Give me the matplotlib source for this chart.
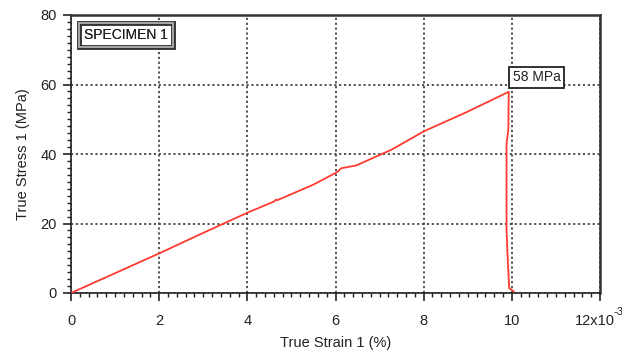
import matplotlib
matplotlib.use("Agg")
import matplotlib.pyplot as plt
from matplotlib.ticker import MultipleLocator
from matplotlib.transforms import ScaledTranslation

plt.rcParams['font.family'] = ['Liberation Sans', 'DejaVu Sans']

# True strain (x10^-3) and true stress (MPa)
strain = [0.0, 1.0, 2.0, 3.0, 4.0, 4.62, 4.65, 4.68, 5.5, 6.04, 6.13, 6.47, 7.28, 8.0, 9.0, 9.93,
          9.92, 9.88, 9.88, 9.90, 9.94, 10.04]
stress = [0.0, 5.7, 11.4, 17.3, 23.1, 26.4, 26.9, 26.7, 31.2, 34.8, 35.9, 36.7, 41.3, 46.5, 52.2, 57.9,
          47.0, 43.0, 18.3, 11.6, 1.4, 0.5]

xticks = [0, 2, 4, 6, 8, 10, 12]
xticklabels = ['0', '2', '4', '6', '8', '10', '12x10']
x_exponent = '-3'
yticks = [0, 20, 40, 60, 80]
peak_label = '58 MPa'
specimen_label = 'SPECIMEN 1'

fig = plt.figure(figsize=(6.22, 3.54), dpi=100)
ax = fig.add_axes([71/622, 1-293/354, (600-71)/622, (293-15)/354])

ax.plot(strain, stress, color='#ff3b2f', lw=1.3, zorder=3)

ax.set_xlim(0, 12)
ax.set_ylim(0, 80)
ax.set_xticks(xticks)
ax.set_xticklabels(xticklabels)
ax.set_yticks(yticks)
ax.xaxis.set_minor_locator(MultipleLocator(0.2))
ax.yaxis.set_minor_locator(MultipleLocator(2))
ax.tick_params(which='major', direction='out', length=6, width=1.2, labelsize=10.5, colors='#222222', pad=4)
ax.tick_params(axis='x', which='major', pad=9)
ax.tick_params(which='minor', direction='out', length=3, width=1.0, colors='#222222')
ax.tick_params(top=False, right=False)

# shift last tick label slightly left so exponent fits like reference
lbls = ax.get_xticklabels()
lbls[-1].set_transform(lbls[-1].get_transform() + ScaledTranslation(-5/100, 0, fig.dpi_scale_trans))
ax.text(12, 0, x_exponent,
        transform=ax.transData + ScaledTranslation(13/100, -14/100, fig.dpi_scale_trans),
        fontsize=8, color='#222222', ha='left', va='top', clip_on=False)

ax.grid(True, which='major', linestyle=(0, (1.2, 1.5)), color='#444444', lw=1.3)
for s in ['left', 'bottom']:
    ax.spines[s].set_linewidth(1.2)
    ax.spines[s].set_color('#222222')
for s in ['top', 'right']:
    ax.spines[s].set_linewidth(1.8)
    ax.spines[s].set_color('#333333')

ax.set_xlabel('True Strain 1 (%)', fontsize=10.5, color='#222222', labelpad=6)
ax.set_ylabel('True Stress 1 (MPa)', fontsize=10.5, color='#222222', labelpad=8)

# specimen box (double frame)
ax.text(0.3, 74.3, specimen_label, fontsize=10, color='#222222', va='center', ha='left', zorder=5,
        bbox=dict(boxstyle='square,pad=0.35', fc='white', ec='#333333', lw=3.5))
ax.text(0.3, 74.3, specimen_label, fontsize=10, color='#222222', va='center', ha='left', zorder=6,
        bbox=dict(boxstyle='square,pad=0.35', fc='none', ec='#bbbbbb', lw=1.2))

# peak label
ax.text(10.02, 62.1, peak_label, fontsize=10, color='#222222', va='center', ha='left', zorder=5,
        bbox=dict(boxstyle='square,pad=0.25', fc='white', ec='#222222', lw=1.3))

fig.savefig('out.png', dpi=100)
